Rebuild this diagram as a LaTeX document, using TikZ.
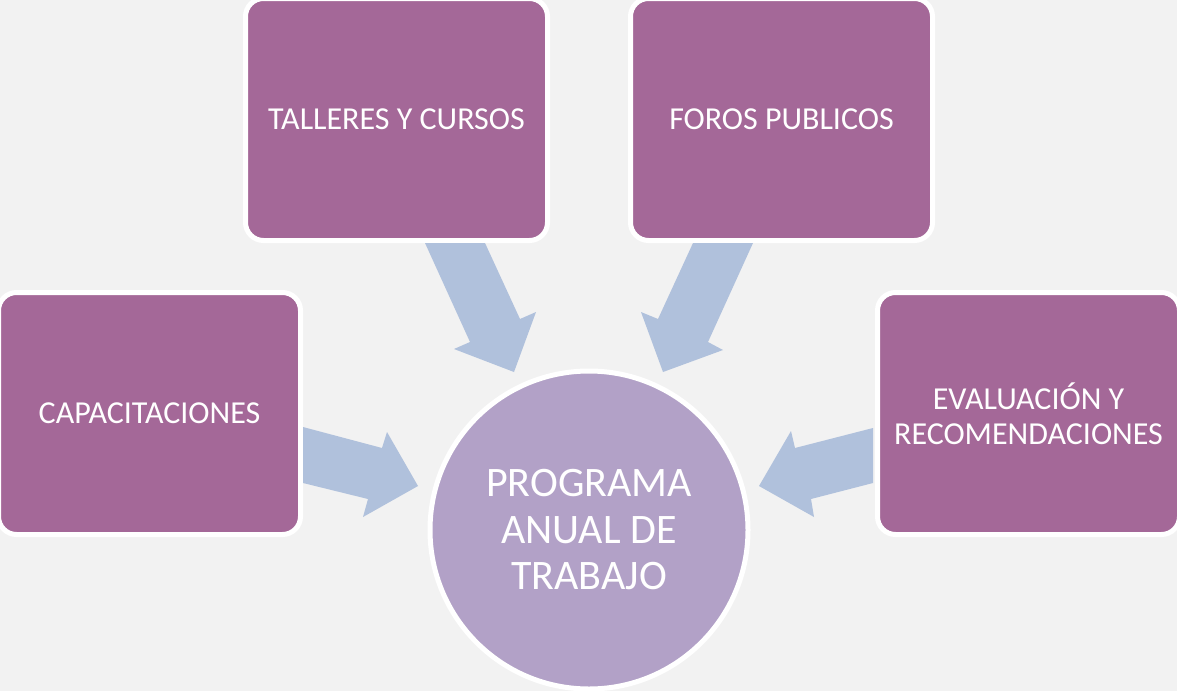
\documentclass[tikz,border=0pt]{standalone}
\usepackage{fontspec}
\setmainfont{Carlito}
\definecolor{bgray}{HTML}{F2F2F2}
\definecolor{boxpurple}{RGB}{164,104,152}
\definecolor{hubpurple}{RGB}{178,161,199}
\definecolor{arrowblue}{RGB}{176,193,220}
\tikzset{
  actbox/.style={rectangle, rounded corners=18pt, fill=boxpurple, draw=white, line width=5pt,
    minimum width=302pt, minimum height=242pt, text=white, align=center,
    font=\fontsize{32}{35}\selectfont},
  hub/.style={circle, fill=hubpurple, draw=white, line width=5pt, minimum size=318pt,
    inner sep=0pt, text=white, align=center, font=\fontsize{42}{46.5}\selectfont},
  blockarrow/.style={fill=arrowblue}
}
\begin{document}
\begin{tikzpicture}[x=1pt, y=-1pt]
      % background and page size
      \fill[bgray] (0,0) rectangle (1177,691);
      \useasboundingbox (0,0) rectangle (1177,691);
      % the four activities and the programme
      \node[actbox] (talleres) at (396.5,119.5) {TALLERES Y CURSOS};
      \node[actbox] (foros) at (781.5,119.5) {FOROS PUBLICOS};
      \node[actbox] (capacit) at (149.5,413.5) {CAPACITACIONES};
      \node[actbox] (evalua) at (1028.5,413.5) {EVALUACIÓN Y\\RECOMENDACIONES};
      \node[hub] (programa) at (589,530) {PROGRAMA\\ANUAL DE\\TRABAJO};
      % block arrows into the programme
      \fill[blockarrow] (303,427) -- (382,448) -- (387,432) -- (418,486)
        -- (363,517) -- (368,499) -- (303,483) -- cycle;
      \fill[blockarrow] (425,243) -- (485,243) -- (520,319) -- (536,312) -- (514,372)
        -- (454,349) -- (470,342) -- cycle;
      \fill[blockarrow] (693,243) -- (753,243) -- (708,342) -- (723,350) -- (663,372)
        -- (641,312) -- (658,319) -- cycle;
      \fill[blockarrow] (873,428) -- (795,448) -- (791,431) -- (759,486)
        -- (814,517) -- (811,499) -- (873,483) -- cycle;
    \end{tikzpicture}
\end{document}
